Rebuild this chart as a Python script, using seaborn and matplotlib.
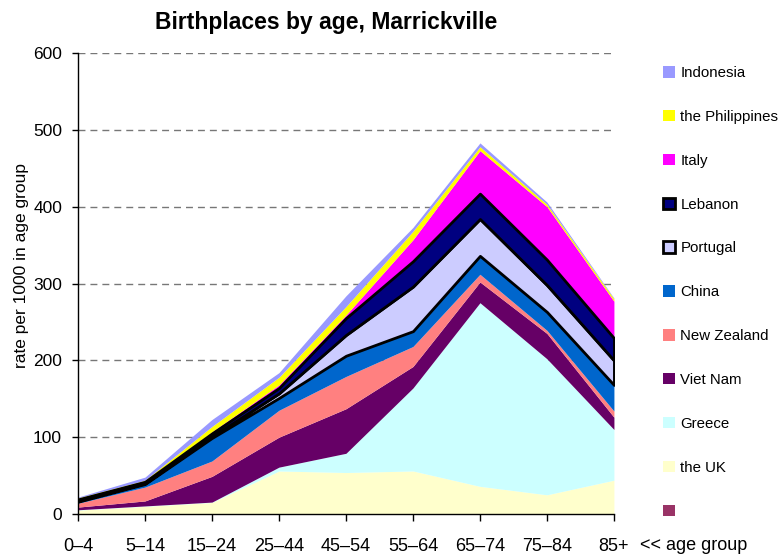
import matplotlib
matplotlib.use("Agg")
import matplotlib.pyplot as plt
import matplotlib.patches as mpatches
import numpy as np
import seaborn as sns

# age groups on the x axis
age_groups = ["0–4", "5–14", "15–24", "25–44", "45–54", "55–64", "65–74", "75–84", "85+"]

# rate per 1000 in age group, one list per birthplace (stacked bottom to top)
unnamed = [0, 0, 0, 0, 0, 0, 0, 0, 0]
uk = [5, 10, 15, 56, 54, 56, 36, 25, 44]
greece = [0.5, 0.5, 0.5, 5, 25, 108, 239, 177, 66]
viet_nam = [3.5, 6.5, 33.5, 39, 58, 28, 27, 33, 16]
new_zealand = [5, 18, 20, 35, 42, 26, 10, 4, 8]
china = [2, 4, 30, 16, 27, 20, 24, 24, 34]
portugal = [1, 1, 2, 6, 27, 58, 48, 35, 32]
lebanon = [2, 2, 4, 7, 22, 33, 33, 33, 29]
italy = [0.5, 0.5, 2, 4, 4, 28, 56, 69, 48]
philippines = [1.5, 1.5, 7, 10, 11, 11, 5, 3, 3]
indonesia = [1, 4, 9, 6, 14, 5, 5, 3, 1]

labels = ["", "the UK", "Greece", "Viet Nam", "New Zealand", "China",
          "Portugal", "Lebanon", "Italy", "the Philippines", "Indonesia"]
series = [unnamed, uk, greece, viet_nam, new_zealand, china,
          portugal, lebanon, italy, philippines, indonesia]
colors = ["#993366", "#FFFFCC", "#CCFFFF", "#660066", "#FF8080", "#0066CC",
          "#CCCCFF", "#000080", "#FF00FF", "#FFFF00", "#9999FF"]
outlined = {"Portugal", "Lebanon"}

sns.set_style("white")
plt.rcParams['font.family'] = ['Liberation Sans', 'DejaVu Sans']
plt.rcParams['text.color'] = 'black'
plt.rcParams['axes.labelcolor'] = 'black'

fig = plt.figure(figsize=(7.79, 5.54), dpi=100)
ax = fig.add_axes([0.1001, 0.0722, 0.688, 0.8321])

x = np.arange(len(age_groups))
bottom = np.zeros(len(age_groups))
handles = []
for lab, vals, col in zip(labels, series, colors):
    top = bottom + np.array(vals, dtype=float)
    if lab in outlined:
        ax.fill_between(x, bottom, top, facecolor=col, edgecolor="black",
                        linewidth=2, zorder=3)
        h = mpatches.Patch(facecolor=col, edgecolor="black", linewidth=2, label=lab)
    else:
        ax.fill_between(x, bottom, top, facecolor=col, linewidth=0, zorder=2)
        h = mpatches.Patch(facecolor=col, edgecolor="none", label=lab)
    handles.append(h)
    bottom = top

ax.set_xlim(0, len(age_groups) - 1)
ax.set_ylim(0, 600)
ax.set_yticks(range(0, 601, 100))
ax.set_xticks(x)
ax.set_xticklabels(age_groups)
for yv in range(100, 601, 100):
    ax.axhline(yv, color="#777777", linewidth=1, dashes=(5, 3.6), zorder=1)

sns.despine(ax=ax, top=True, right=True)
for side in ['left', 'bottom']:
    ax.spines[side].set_color("black")
    ax.spines[side].set_linewidth(1)
    ax.spines[side].set_zorder(5)
ax.tick_params(axis='x', direction='out', length=5, width=1, pad=12,
               labelsize=13, colors="black", bottom=True)
ax.tick_params(axis='y', direction='out', length=4.5, width=1, pad=7,
               labelsize=12.5, colors="black", left=True)

ax.set_ylabel("rate per 1000 in age group", fontsize=12.5)
ax.yaxis.set_label_coords(-0.092, 0.538)
fig.text(326 / 779, 1 - 22 / 554, "Birthplaces by age, Marrickville",
         fontsize=16.5, fontweight="bold", ha="center", va="center")
fig.text(640 / 779, 1 - 545 / 554, "<< age group", fontsize=13, va="center", ha="left")

leg = fig.legend(handles=handles[::-1], loc="upper left",
                 bbox_to_anchor=(663 / 779, 1 - 66 / 554), frameon=False, fontsize=10.8,
                 handlelength=0.8, handleheight=0.8, handletextpad=0.35,
                 labelspacing=1.99, borderpad=0, borderaxespad=0)

fig.savefig("out.png", dpi=100)
